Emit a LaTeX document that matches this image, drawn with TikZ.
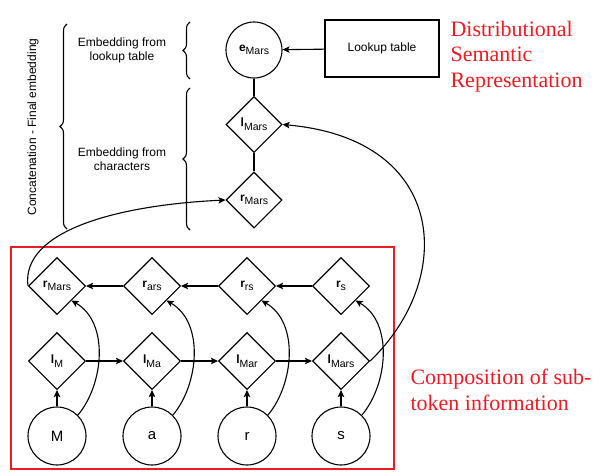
\documentclass[tikz,border=0pt]{standalone}
\usepackage{fontspec}
\setmainfont{Liberation Sans}
\newfontfamily\redserif{Liberation Serif}
\usetikzlibrary{shapes.geometric,arrows.meta,decorations.pathreplacing}
\definecolor{redc}{RGB}{237,28,36}
\newcommand\lab[2]{\textbf{#1}\raisebox{-0.3em}{\fontsize{10.5}{11}\selectfont #2}}
\begin{document}
\begin{tikzpicture}[x=1pt,y=-1pt,line width=1.1pt,
  >={Stealth[length=7pt,width=6.5pt,inset=1.5pt]},
  dia/.style={diamond,draw,aspect=1,minimum size=57pt,inner sep=0pt,font=\fontsize{12}{14}\selectfont},
  circ/.style={circle,draw,minimum size=58pt,inner sep=0pt,font=\fontsize{15}{18}\selectfont},
  lbl/.style={align=center,font=\fontsize{12}{14}\selectfont},
  redtxt/.style={align=left,text=redc,font=\redserif\fontsize{22}{25.5}\selectfont,inner sep=0pt},
  bracestyle/.style={decorate,decoration={brace,amplitude=7pt}},
  curvearrow/.style={->}]
\useasboundingbox (0,0) rectangle (604,471);

% top part
\node[circ,minimum size=56pt,font=\fontsize{12}{14}\selectfont] (eM) at (254,50) {\lab{e}{Mars}};
\node[draw,minimum width=114pt,minimum height=57pt,lbl] (lut) at (382,48.5) {Lookup table};
\node[dia,minimum size=56pt] (lT) at (254,124.5) {\lab{l}{Mars}};
\node[dia,minimum size=56pt] (rT) at (254,200) {\lab{r}{Mars}};
\draw[->] (lut) -- (eM);
\draw (eM) -- (lT);
\draw (lT) -- (rT);

% braces and labels
\draw[bracestyle] (67,229) -- (67,24);
\draw[bracestyle] (190,79) -- (190,22);
\draw[bracestyle] (190,230) -- (190,88);
\node[lbl,rotate=90] (concat) at (33,127) {Concatenation - Final embedding};
\node[lbl] (embl) at (122,50) {Embedding from\\lookup table};
\node[lbl] (embc) at (122,159) {Embedding from\\characters};

\node[redtxt,anchor=base west] (dsr) at (450,87) {Distributional\\Semantic\\Representation};
\node[redtxt,anchor=base west] (comp) at (410,410) {Composition of sub-\\token information};

% bottom part
\draw[redc,line width=2pt] (11,247) rectangle (394,469);

\node[dia] (r1) at (57,286) {\lab{r}{Mars}};
\node[dia] (r2) at (152,286) {\lab{r}{ars}};
\node[dia] (r3) at (247,286) {\lab{r}{rs}};
\node[dia] (r4) at (341,286) {\lab{r}{s}};
\node[dia] (l1) at (57,361) {\lab{l}{M}};
\node[dia] (l2) at (152,361) {\lab{l}{Ma}};
\node[dia] (l3) at (247,361) {\lab{l}{Mar}};
\node[dia] (l4) at (341,361) {\lab{l}{Mars}};
\node[circ] (c1) at (57,436) {M};
\node[circ] (c2) at (152,436) {a};
\node[circ] (c3) at (247,436) {r};
\node[circ] (c4) at (341,436) {s};

\foreach \i in {1,2,3,4}{
  \draw[->] (c\i) -- (l\i);
  \draw[->] (c\i.45) .. controls +(26,-31) and +(38,22) .. (r\i.-45);
}
\draw[->] (l1) -- (l2);
\draw[->] (l2) -- (l3);
\draw[->] (l3) -- (l4);
\draw[->] (r4) -- (r3);
\draw[->] (r3) -- (r2);
\draw[->] (r2) -- (r1);

\draw[->] (l4.east) .. controls +(85,-81) and +(167,15) .. (lT.east);
\draw[->] (r1.west) .. controls +(-7,-56) and +(-106,5) .. (rT.west);
\end{tikzpicture}
\end{document}
